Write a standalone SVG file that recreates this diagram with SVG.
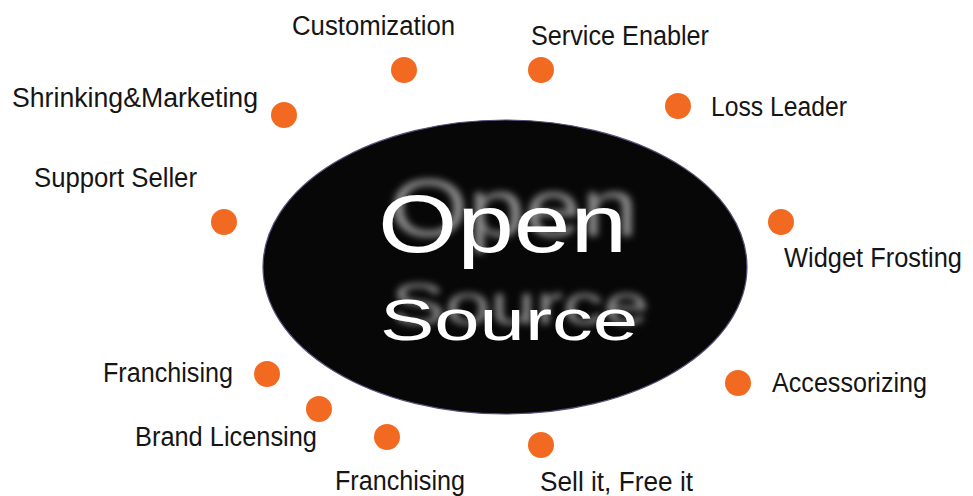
<svg xmlns="http://www.w3.org/2000/svg" width="973" height="496" viewBox="0 0 973 496">
  <style>
    .lbl { font-family: "Liberation Sans", Arial, sans-serif; font-size: 27px; fill: #151515; }
    .dot { fill: #f26a21; }
    .big { font-family: "Liberation Sans", Arial, sans-serif; fill: #ffffff; }
  </style>
  <defs>
    <filter id="ghost" x="-20%" y="-60%" width="150%" height="200%">
      <feOffset in="SourceAlpha" dx="11" dy="-16" result="off"/>
      <feGaussianBlur in="off" stdDeviation="3.5" result="b"/>
      <feFlood flood-color="#8c8c8c" result="c"/>
      <feComposite in="c" in2="b" operator="in" result="sh"/>
      <feGaussianBlur in="SourceGraphic" stdDeviation="0.5" result="main"/>
      <feMerge>
        <feMergeNode in="sh"/>
        <feMergeNode in="main"/>
      </feMerge>
    </filter>
  </defs>
  <rect width="973" height="496" fill="#ffffff"/>

  <g id="center">
    <ellipse cx="505" cy="267" rx="242" ry="147" fill="#070707" stroke="#5a4f7a" stroke-width="1.2"/>
    <text class="big" filter="url(#ghost)" x="378" y="252" font-size="82" textLength="249" lengthAdjust="spacingAndGlyphs">Open</text>
    <text class="big" filter="url(#ghost)" x="380" y="340" font-size="58" textLength="258" lengthAdjust="spacingAndGlyphs">Source</text>
  </g>

  <g id="customization">
    <circle class="dot" cx="404" cy="70" r="13"/>
    <text class="lbl" x="292" y="35" textLength="163" lengthAdjust="spacingAndGlyphs">Customization</text>
  </g>
  <g id="service-enabler">
    <circle class="dot" cx="541" cy="70" r="13"/>
    <text class="lbl" x="531" y="45" textLength="178" lengthAdjust="spacingAndGlyphs">Service Enabler</text>
  </g>
  <g id="shrinking-marketing">
    <circle class="dot" cx="284" cy="115" r="13"/>
    <text class="lbl" x="12" y="107" textLength="246" lengthAdjust="spacingAndGlyphs">Shrinking&amp;Marketing</text>
  </g>
  <g id="loss-leader">
    <circle class="dot" cx="678" cy="106" r="13"/>
    <text class="lbl" x="711" y="116" textLength="136" lengthAdjust="spacingAndGlyphs">Loss Leader</text>
  </g>
  <g id="support-seller">
    <circle class="dot" cx="224" cy="222" r="13"/>
    <text class="lbl" x="34" y="187" textLength="163" lengthAdjust="spacingAndGlyphs">Support Seller</text>
  </g>
  <g id="widget-frosting">
    <circle class="dot" cx="781" cy="222" r="13"/>
    <text class="lbl" x="784" y="267" textLength="178" lengthAdjust="spacingAndGlyphs">Widget Frosting</text>
  </g>
  <g id="franchising-left">
    <circle class="dot" cx="267" cy="374" r="13"/>
    <text class="lbl" x="103" y="382" textLength="130" lengthAdjust="spacingAndGlyphs">Franchising</text>
  </g>
  <g id="accessorizing">
    <circle class="dot" cx="738" cy="383" r="13"/>
    <text class="lbl" x="772" y="392" textLength="155" lengthAdjust="spacingAndGlyphs">Accessorizing</text>
  </g>
  <g id="brand-licensing">
    <circle class="dot" cx="319" cy="409" r="13"/>
    <text class="lbl" x="135" y="446" textLength="182" lengthAdjust="spacingAndGlyphs">Brand Licensing</text>
  </g>
  <g id="franchising-bottom">
    <circle class="dot" cx="387" cy="437" r="13"/>
    <text class="lbl" x="335" y="490" textLength="130" lengthAdjust="spacingAndGlyphs">Franchising</text>
  </g>
  <g id="sell-it-free-it">
    <circle class="dot" cx="541" cy="445" r="13"/>
    <text class="lbl" x="540" y="491" textLength="153" lengthAdjust="spacingAndGlyphs">Sell it, Free it</text>
  </g>
</svg>
